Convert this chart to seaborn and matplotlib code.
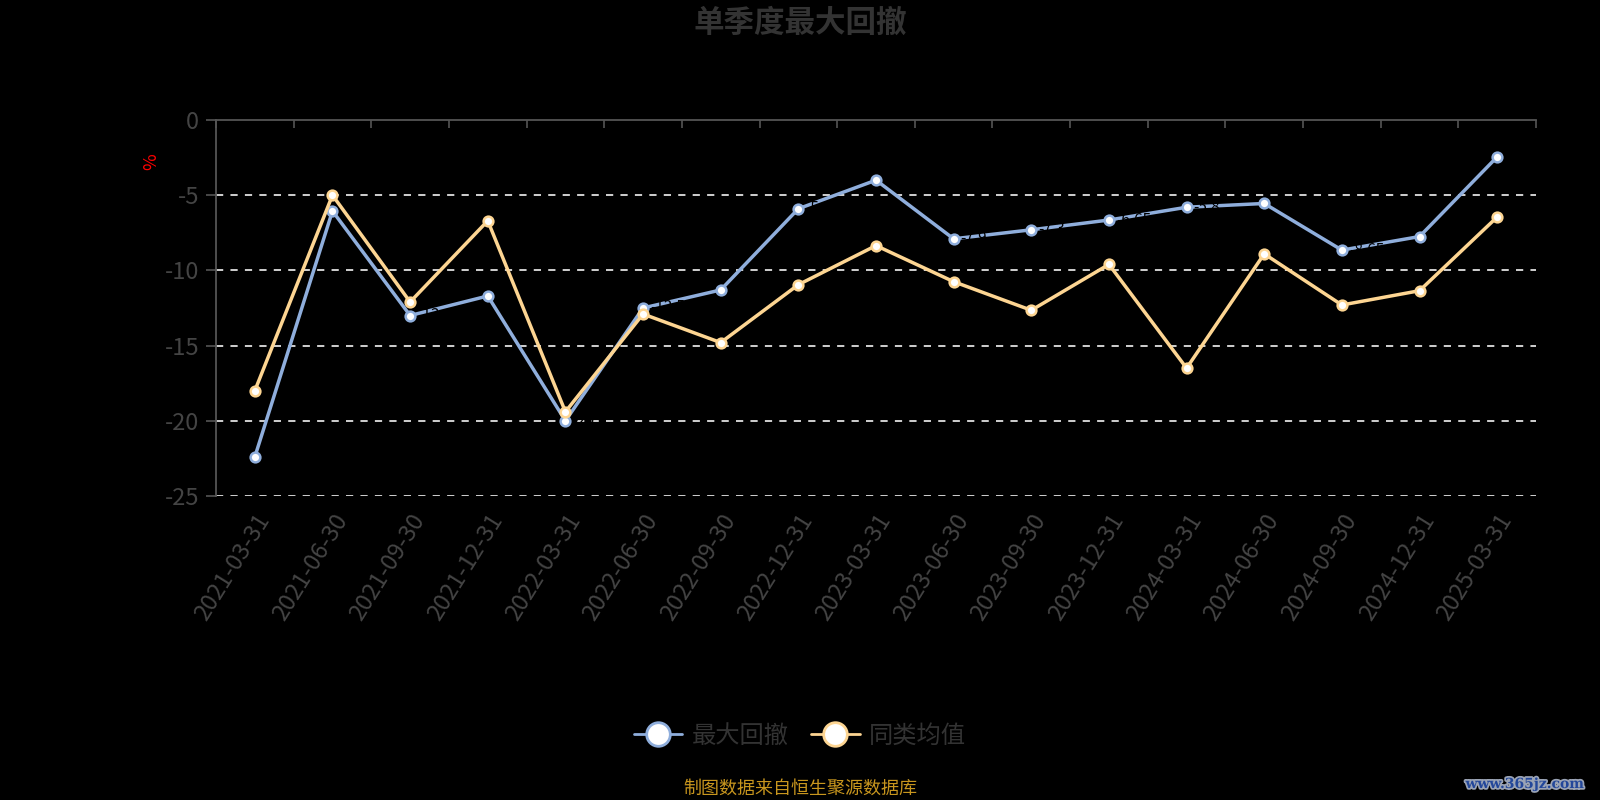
import pandas as pd
import matplotlib
matplotlib.use("Agg")
import matplotlib.pyplot as plt
import matplotlib.patheffects as pe
from matplotlib.lines import Line2D
import seaborn as sns

# data
dates = ["2021-03-31", "2021-06-30", "2021-09-30", "2021-12-31", "2022-03-31",
         "2022-06-30", "2022-09-30", "2022-12-31", "2023-03-31", "2023-06-30",
         "2023-09-30", "2023-12-31", "2024-03-31", "2024-06-30", "2024-09-30",
         "2024-12-31", "2025-03-31"]
max_dd = [-22.4, -6.05, -13.0, -11.7, -20.0, -12.5, -11.3, -5.9, -4.0, -7.9,
          -7.3, -6.65, -5.8, -5.55, -8.65, -7.75, -2.45]
peer_avg = [-18.0, -5.0, -12.1, -6.7, -19.4, -12.9, -14.8, -10.95, -8.35, -10.75,
            -12.65, -9.6, -16.5, -8.9, -12.3, -11.35, -6.45]
series_names = ["最大回撤", "同类均值"]
colors = ["#8FAEDC", "#FDD592"]

sns.set_style("dark")
plt.rcParams['font.family'] = ['Noto Sans CJK SC', 'DejaVu Sans']
plt.rcParams['axes.unicode_minus'] = False

fig = plt.figure(figsize=(16, 8), dpi=100, facecolor="black")
ax = fig.add_axes([0.135, 0.38, 0.825, 0.47])
ax.set_facecolor("black")

df = pd.DataFrame({"idx": range(len(dates)), "date": dates,
                   "max_dd": max_dd, "peer_avg": peer_avg})

# -----------------------------
# LINES
# -----------------------------
sns.lineplot(data=df, x="idx", y="max_dd", ax=ax, color=colors[0], linewidth=2.5,
             marker="o", markersize=7, markerfacecolor="white",
             markeredgecolor=colors[0], markeredgewidth=1.8, zorder=3)
# dark value labels sitting on the blue line
for i, v in enumerate(max_dd):
    ax.annotate(f"{v:g}", (i, v), xytext=(5, 0), textcoords="offset points",
                ha="left", va="center", fontsize=11, color="black", zorder=4)
sns.lineplot(data=df, x="idx", y="peer_avg", ax=ax, color=colors[1], linewidth=2.5,
             marker="o", markersize=7, markerfacecolor="white",
             markeredgecolor=colors[1], markeredgewidth=1.8, zorder=5)

# -----------------------------
# AXES
# -----------------------------
ax.set_xlim(-0.5, len(dates) - 0.5)
ax.set_ylim(-25, 0)
ax.set_yticks([0, -5, -10, -15, -20, -25])
ax.set_yticklabels(["0", "-5", "-10", "-15", "-20", "-25"])
for y in [-5, -10, -15, -20, -25]:
    ax.axhline(y, color="#e0e0e0", linestyle=(0, (4, 4)), linewidth=1.3, zorder=1)
ax.grid(False)

ax.set_xticks(range(len(dates)))
ax.set_xticklabels(dates, rotation=58, ha="right", rotation_mode="anchor",
                   fontsize=17, color="#444444")
ax.set_xticks([i - 0.5 for i in range(len(dates) + 1)], minor=True)
ax.tick_params(axis="x", which="major", length=0, pad=10, bottom=True, top=False)
ax.tick_params(axis="x", which="minor", top=True, bottom=False, direction="in",
               length=6, color="#555555", width=1.2)
ax.tick_params(axis="y", which="major", left=True, length=7, color="#555555",
               width=1.2, labelsize=17, labelcolor="#444444", pad=5)

for side in ["bottom", "right"]:
    ax.spines[side].set_visible(False)
for side in ["top", "left"]:
    ax.spines[side].set_color("#555555")
    ax.spines[side].set_linewidth(1.3)

ax.set_xlabel("")
ax.set_ylabel("%", color="red", fontsize=13)
ax.yaxis.set_label_coords(-0.042, 0.89)

# -----------------------------
# TEXTS
# -----------------------------
fig.text(0.5, 0.972, "单季度最大回撤", ha="center", va="center",
         fontsize=22, fontweight="bold", color="#333333")

handles = [Line2D([0], [0], color=c, linewidth=2, marker="o", markersize=17,
                  markerfacecolor="white", markeredgecolor=c, markeredgewidth=2)
           for c in colors]
leg = fig.legend(handles, series_names, loc="center", bbox_to_anchor=(0.5, 0.08),
                 ncol=2, frameon=False, fontsize=17.5, handlelength=2.0,
                 columnspacing=0.9, handletextpad=0.4)
for t in leg.get_texts():
    t.set_color("#333333")

fig.text(0.5, 0.014, "制图数据来自恒生聚源数据库", ha="center", va="center",
         fontsize=13, color="#C8961E")

fig.text(0.99, 0.02, "www.365jz.com", ha="right", va="center", fontsize=10,
         fontweight="bold", family="DejaVu Serif", color="#23479A",
         path_effects=[pe.withStroke(linewidth=2.5, foreground="#9aa3b5")])

plt.savefig("out.png", dpi=100, facecolor="black")
